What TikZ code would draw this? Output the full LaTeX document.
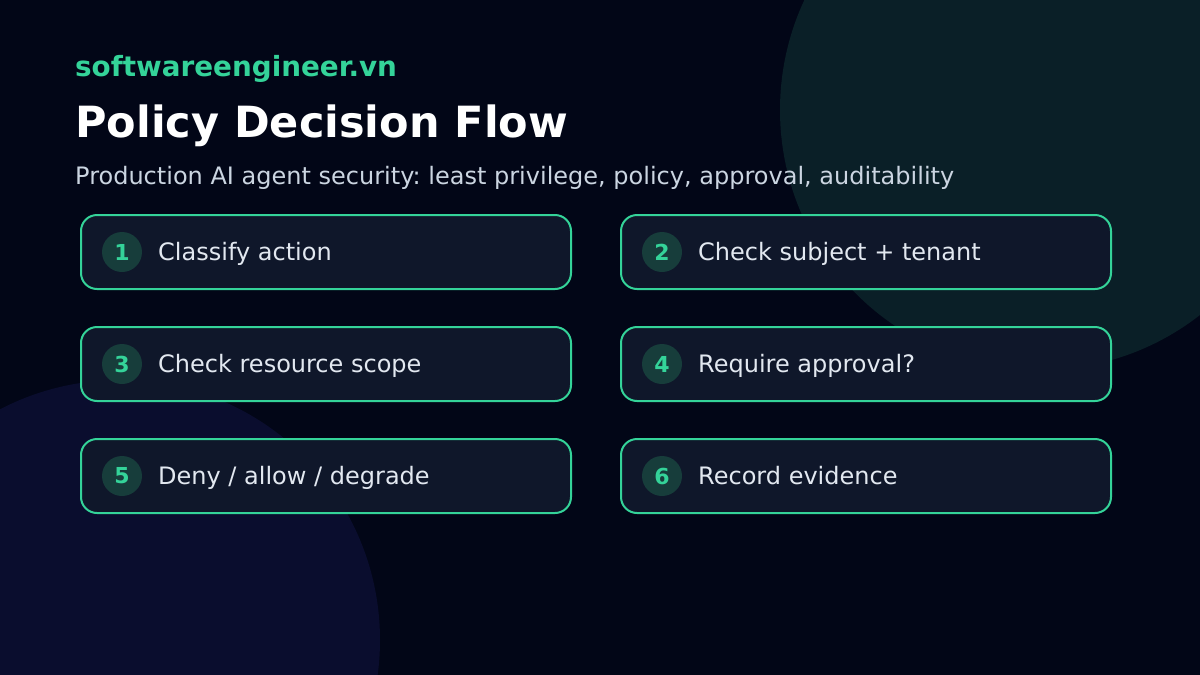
\documentclass[tikz,border=0pt]{standalone}
\usepackage{fontspec}
\setmainfont{DejaVu Sans}
\frenchspacing
\definecolor{bgc}{HTML}{020617}
\definecolor{blobA}{HTML}{0A1F27}
\definecolor{blobB}{HTML}{0A0D2E}
\definecolor{boxfill}{HTML}{0F172A}
\definecolor{accent}{HTML}{34D399}
\definecolor{badgefill}{HTML}{173D3B}
\definecolor{labeltext}{HTML}{E2E8F0}
\definecolor{subtext}{HTML}{CBD5E1}
\tikzset{
  stepbox/.style={draw=accent, line width=2pt, fill=boxfill, rounded corners=16pt,
    minimum width=490pt, minimum height=74pt, anchor=north west, inner sep=0pt},
  badge/.style={circle, fill=badgefill, minimum size=40pt, inner sep=0pt,
    text=accent, font=\fontsize{22}{24}\selectfont\bfseries},
  steplabel/.style={anchor=base west, inner sep=0pt, text=labeltext,
    font=\fontsize{24}{28}\selectfont},
}
\begin{document}
\begin{tikzpicture}[x=1pt,y=-1pt]
\useasboundingbox (0,0) rectangle (1200,675);
\fill[bgc] (0,0) rectangle (1200,675);
\begin{scope}
\clip (0,0) rectangle (1200,675);
\fill[blobA] (1040,110) circle[radius=260];
\fill[blobB] (120,640) circle[radius=260];
\end{scope}
\node[anchor=base west, inner sep=0pt, text=accent, font=\fontsize{27.8}{32}\selectfont\bfseries] (brand) at (75,76) {softwareengineer.vn};
\node[anchor=base west, inner sep=0pt, text=white, font=\fontsize{43}{50}\selectfont\bfseries] (title) at (75,137) {Policy Decision Flow};
\node[anchor=base west, inner sep=0pt, text=subtext, font=\fontsize{24}{28}\selectfont] (subtitle) at (75,184) {Production AI agent security: least privilege, policy, approval, auditability};
\foreach \n/\x/\y/\t in {1/80/214/{Classify action}, 2/620/214/{Check subject + tenant}, 3/80/326/{Check resource scope}, 4/620/326/{Require approval?}, 5/80/438/{Deny / allow / degrade}, 6/620/438/{Record evidence}}{
  \node[stepbox] (box\n) at (\x,\y) {};
  \node[badge] (badge\n) at ([xshift=42pt]box\n.west) {\n};
  \node[steplabel] (label\n) at ([xshift=78pt,yshift=-8.5pt]box\n.west) {\t};
}
\end{tikzpicture}
\end{document}
